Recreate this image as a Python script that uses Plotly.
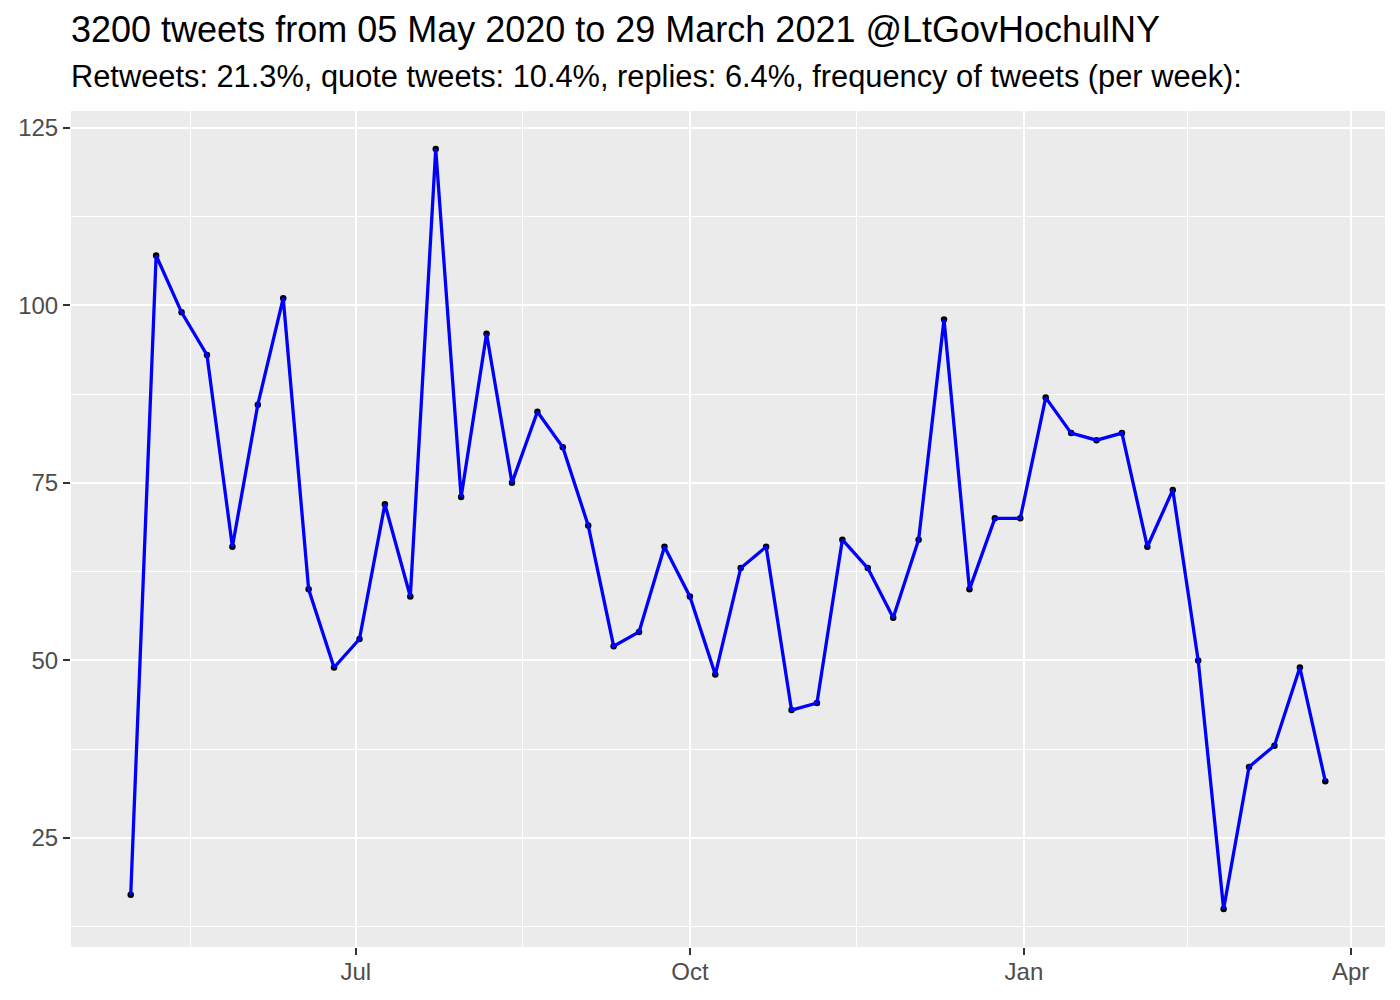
import pandas as pd
import plotly.graph_objects as go

start_week = "2020-04-30"
tweets_per_week = [17, 107, 99, 93, 66, 86, 101, 60, 49, 53, 72, 59, 122, 73, 96, 75,
                   85, 80, 69, 52, 54, 66, 59, 48, 63, 66, 43, 44, 67, 63, 56, 67,
                   98, 60, 70, 70, 87, 82, 81, 82, 66, 74, 50, 15, 35, 38, 49, 33]
weeks = pd.date_range(start_week, periods=len(tweets_per_week), freq="7D")

x_break_dates = ["2020-04-01", "2020-07-01", "2020-10-01", "2021-01-01", "2021-04-01"]
x_tick_dates = x_break_dates[1:]
x_tick_labels = ["Jul", "Oct", "Jan", "Apr"]
y_ticks = [25, 50, 75, 100, 125]

title = "3200 tweets from 05 May 2020 to 29 March 2021 @LtGovHochulNY"
subtitle = "Retweets: 21.3%, quote tweets: 10.4%, replies: 6.4%, frequency of tweets (per week):"

bd = pd.to_datetime(x_break_dates)
x_minor = [bd[i] + (bd[i + 1] - bd[i]) / 2 for i in range(len(bd) - 1)]

# ggplot-style 5% expansion
span = weeks[-1] - weeks[0]
x_range = [weeks[0] - span * 0.05, weeks[-1] + span * 0.05]
ymin, ymax = min(tweets_per_week), max(tweets_per_week)
yr = ymax - ymin
y_range = [ymin - 0.05 * yr, ymax + 0.05 * yr]

FONT = "Liberation Sans, Arial, sans-serif"

# page body adds an 8px offset; margins compensate so the panel sits at 71..1385 x 111..947
fig = go.Figure()
fig.add_trace(go.Scatter(x=weeks, y=tweets_per_week, mode="markers",
                         marker=dict(color="black", size=6.5), showlegend=False,
                         hoverinfo="skip"))
fig.add_trace(go.Scatter(x=weeks, y=tweets_per_week, mode="lines",
                         line=dict(color="#0000FF", width=3.3), showlegend=False))

fig.update_layout(
    width=1400, height=1000,
    margin=dict(l=63, r=23, t=103, b=61),
    paper_bgcolor="white", plot_bgcolor="#EBEBEB",
    font=dict(family=FONT, color="#4D4D4D"),
    xaxis=dict(
        range=x_range, type="date", automargin=False,
        tickmode="array", tickvals=x_tick_dates, ticktext=x_tick_labels,
        ticks="outside", ticklen=7, tickwidth=2, tickcolor="#333333",
        ticklabelstandoff=-4,
        tickfont=dict(size=24, color="#4D4D4D"),
        showgrid=True, gridcolor="white", gridwidth=2.2,
        minor=dict(tickmode="array", tickvals=x_minor, showgrid=True,
                   gridcolor="white", gridwidth=1.1, ticks=""),
        zeroline=False, showline=False,
    ),
    yaxis=dict(
        range=y_range, automargin=False,
        tickmode="array", tickvals=y_ticks,
        ticks="outside", ticklen=7, tickwidth=2, tickcolor="#333333",
        tickfont=dict(size=24, color="#4D4D4D"),
        showgrid=True, gridcolor="white", gridwidth=2.2,
        minor=dict(tickmode="array", tickvals=[t - 12.5 for t in y_ticks],
                   showgrid=True, gridcolor="white", gridwidth=1.1, ticks=""),
        zeroline=False, showline=False,
    ),
    annotations=[
        dict(text=title, xref="paper", yref="paper", x=-0.0015, y=(947 - 30) / 836,
             xanchor="left", yanchor="middle", showarrow=False,
             font=dict(size=36, color="black", family=FONT)),
        dict(text=subtitle, xref="paper", yref="paper", x=-0.0015, y=(947 - 77) / 836,
             xanchor="left", yanchor="middle", showarrow=False,
             font=dict(size=30.8, color="black", family=FONT)),
    ],
)

fig.write_html("out.html")
